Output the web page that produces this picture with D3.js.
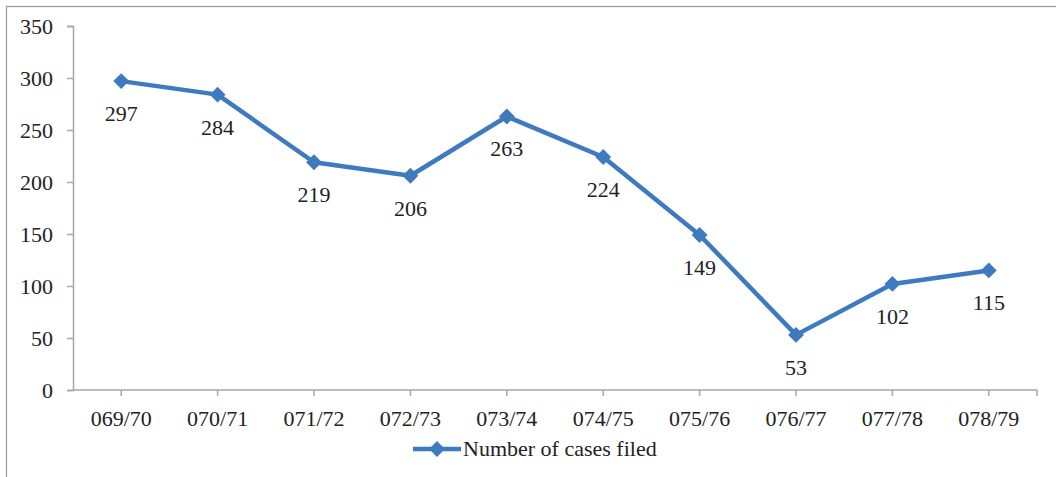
<!DOCTYPE html>
<html>
<head>
<meta charset="utf-8">
<script src="https://cdn.jsdelivr.net/npm/d3@7"></script>
<style>
  body { margin: 0; background: #fff; }
  text { font-family: "Liberation Serif", "Times New Roman", serif; fill: #222; }
</style>
</head>
<body>
<script>
var years = ['069/70', '070/71', '071/72', '072/73', '073/74', '074/75', '075/76', '076/77', '077/78', '078/79'];
var cases = [297, 284, 219, 206, 263, 224, 149, 53, 102, 115];
var yTicks = [0, 50, 100, 150, 200, 250, 300, 350];
var seriesName = 'Number of cases filed';

var width = 1056, height = 477;
var plotLeft = 73, plotRight = 1037, plotTop = 26, plotBottom = 390;
var blue = '#3d7abf', grey = '#a6a6a6';
var fs = '22px';

var svg = d3.select('body').append('svg')
  .attr('width', width)
  .attr('height', height);

// outer frame (runs off the right and bottom edges)
svg.append('rect')
  .attr('x', 6.5).attr('y', 6.5)
  .attr('width', width + 10).attr('height', height + 10)
  .attr('fill', 'none')
  .attr('stroke', '#9a9a9a')
  .attr('stroke-width', 1.2);

var x = d3.scaleBand().domain(years).range([plotLeft, plotRight]);
var y = d3.scaleLinear().domain([0, 350]).range([plotBottom, plotTop]);

function cx(d) { return x(d) + x.bandwidth() / 2; }

// y axis
var yAxis = svg.append('g')
  .attr('transform', 'translate(' + plotLeft + ',0)')
  .call(d3.axisLeft(y).tickValues(yTicks).tickSize(6).tickPadding(14));
yAxis.selectAll('text').style('font-size', fs).attr('fill', '#222').attr('font-family', null);

// x axis, ticks at category centres plus the far end
var xAxis = svg.append('g')
  .attr('transform', 'translate(0,' + plotBottom + ')');
xAxis.append('line')
  .attr('x1', plotLeft).attr('x2', plotRight)
  .attr('stroke', grey).attr('stroke-width', 1.5);
xAxis.selectAll('line.tk')
  .data(years.map(cx).concat([plotRight]))
  .enter().append('line')
  .attr('class', 'tk')
  .attr('x1', function(d) { return d; })
  .attr('x2', function(d) { return d; })
  .attr('y1', 0).attr('y2', 6)
  .attr('stroke', grey).attr('stroke-width', 1.5);
xAxis.selectAll('text')
  .data(years)
  .enter().append('text')
  .attr('x', cx)
  .attr('y', 36)
  .attr('text-anchor', 'middle')
  .style('font-size', fs)
  .text(function(d) { return d; });

svg.selectAll('.domain, .tick line')
  .attr('stroke', grey).attr('stroke-width', 1.5);

// line
var line = d3.line()
  .x(function(d, i) { return cx(years[i]); })
  .y(function(d) { return y(d); });

svg.append('path')
  .datum(cases)
  .attr('d', line)
  .attr('fill', 'none')
  .attr('stroke', blue)
  .attr('stroke-width', 4.5)
  .attr('stroke-linejoin', 'round');

var diamond = d3.symbol().type(d3.symbolDiamond2).size(160);

svg.selectAll('path.mk')
  .data(cases)
  .enter().append('path')
  .attr('class', 'mk')
  .attr('d', diamond)
  .attr('transform', function(d, i) { return 'translate(' + cx(years[i]) + ',' + y(d) + ')'; })
  .attr('fill', blue);

svg.selectAll('text.lbl')
  .data(cases)
  .enter().append('text')
  .attr('class', 'lbl')
  .attr('x', function(d, i) { return cx(years[i]); })
  .attr('y', function(d) { return y(d) + 40; })
  .attr('text-anchor', 'middle')
  .style('font-size', fs)
  .text(function(d) { return d; });

// legend
var lg = svg.append('g').attr('transform', 'translate(413,449)');
lg.append('line')
  .attr('x1', 0).attr('x2', 48)
  .attr('stroke', blue).attr('stroke-width', 4.5);
lg.append('path')
  .attr('d', diamond)
  .attr('transform', 'translate(24,0)')
  .attr('fill', blue);
lg.append('text')
  .attr('x', 50).attr('y', 7)
  .style('font-size', fs)
  .text(seriesName);
</script>
</body>
</html>
